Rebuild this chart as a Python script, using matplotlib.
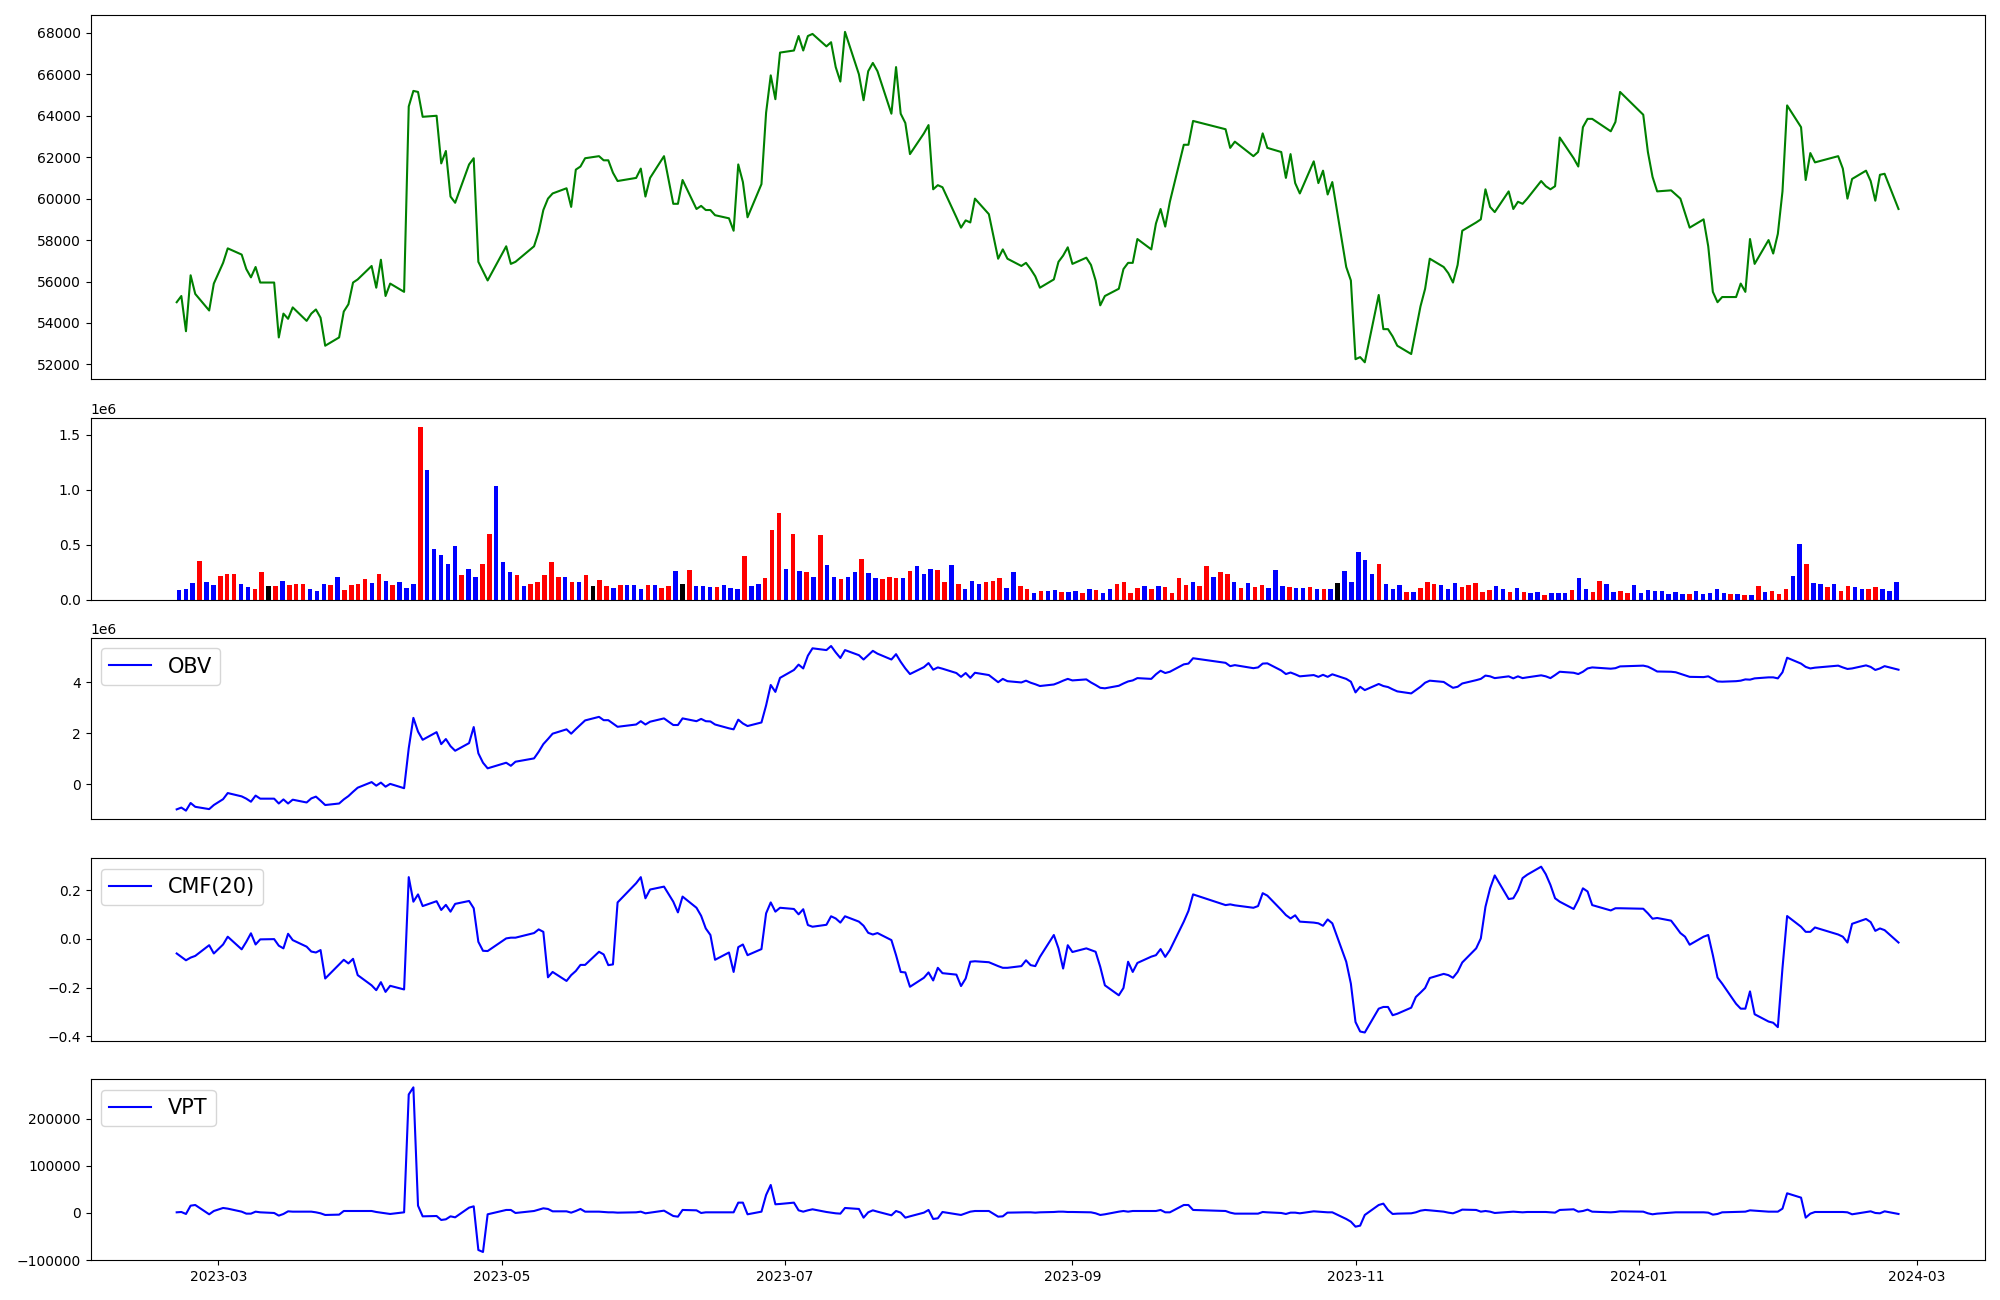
import numpy as np
import pandas as pd
import matplotlib
matplotlib.use("Agg")
import matplotlib.pyplot as plt

# KRX trading days, 2023-02-20 .. 2024-02-26
holidays = ['2023-03-01', '2023-05-01', '2023-05-05', '2023-05-29', '2023-06-06',
            '2023-08-15', '2023-09-28', '2023-09-29', '2023-10-02', '2023-10-03',
            '2023-10-09', '2023-12-25', '2023-12-29', '2024-01-01', '2024-02-09',
            '2024-02-12']
dates = pd.bdate_range('2023-02-20', '2024-02-26')
dates = dates[~dates.isin(pd.to_datetime(holidays))]

# close price
price = [
    55000, 55300, 53600, 56300, 55400, 54600, 55900,
    56900, 57600, 57300, 56600, 56200, 56700, 55950, 55950, 53300, 54450, 54200, 54750,
    54100, 54450, 54650, 54250, 52900, 53300, 54550, 54900, 55950, 56100,
    56750, 55700, 57050, 55300, 55900, 55500, 64450, 65200, 65150, 63950, 64000, 61700,
    62300, 60100, 59800, 61650, 61950, 56950, 56500, 56050,
    57700, 56850, 56950, 57700, 58400, 59450, 60000, 60250, 60500, 59600, 61400, 61550,
    61950, 62050, 61850, 61850, 61250, 60850, 61000, 61450,
    60100, 61000, 62050, 59750, 59750, 60900, 59500, 59650, 59450, 59450, 59200, 59050,
    58450, 61650, 60800, 59100, 60700, 64150, 65950, 64800, 67050,
    67150, 67850, 67150, 67850, 67950, 67350, 67550, 66350, 65650, 68050, 66000, 64750,
    66150, 66550, 66150, 64100, 66350, 64100, 63650, 62150, 63150,
    63550, 60450, 60650, 60550, 59100, 58600, 58950, 58850, 60000, 59250, 57100, 57550,
    57100, 56750, 56900, 56600, 56250, 55700, 56100, 56950, 57250, 57650,
    56850, 57150, 56800, 56050, 54850, 55300, 55650, 56600, 56900, 56900, 58050, 57550,
    58800, 59500, 58650, 59850, 62600, 62600, 63750,
    63350, 62450, 62750, 62050, 62250, 63150, 62450, 62250, 61000, 62150, 60750, 60250,
    61800, 60750, 61350, 60200, 60800, 56700, 56050,
    52250, 52350, 52100, 55350, 53700, 53700, 53350, 52900, 52500, 53650, 54800, 55650,
    57100, 56700, 56400, 55950, 56800, 58450, 58850, 59000, 60450, 59600,
    59350, 60350, 59500, 59850, 59750, 60000, 60850, 60600, 60450, 60600, 62950, 61950,
    61550, 63450, 63850, 63850, 63250, 63700, 65150,
    64050, 62250, 61050, 60350, 60400, 60200, 60000, 59300, 58600, 59000, 57700, 55500,
    55000, 55250, 55250, 55900, 55500, 58050, 56850, 58000, 57350, 58300,
    60350, 64500, 63450, 60900, 62200, 61750, 62050, 61450, 60000, 60950, 61350, 60850,
    59900, 61150, 61200, 59500,
]

# volume in thousands, bar colour code (r = up candle, b = down, k = flat)
volume_k = [
    85, 94, 148, 347, 157, 130, 211, 229, 229, 139, 112, 94, 248, 121, 121, 166, 130, 139,
    139, 94, 75, 139, 130, 202, 85, 130, 139, 184, 148, 229, 166, 130, 157, 103, 139, 1570,
    1180, 456, 402, 320, 492, 220, 275, 202, 320, 601, 1035, 338, 248, 220, 121, 139, 157,
    220, 338, 202, 202, 157, 157, 220, 121, 175, 121, 103, 130, 130, 130, 94, 130, 130, 103,
    121, 257, 139, 266, 121, 121, 112, 112, 130, 103, 94, 392, 121, 139, 193, 637, 791, 275,
    601, 257, 248, 202, 592, 311, 202, 184, 202, 248, 365, 239, 193, 184, 202, 193, 193,
    257, 302, 229, 275, 266, 157, 311, 139, 94, 166, 139, 157, 166, 193, 103, 248, 121, 94,
    57, 75, 75, 85, 66, 66, 75, 57, 94, 85, 57, 94, 139, 157, 57, 103, 121, 94, 121, 112,
    57, 193, 130, 157, 121, 302, 202, 248, 229, 157, 103, 148, 112, 130, 103, 266, 121, 112,
    103, 103, 112, 94, 94, 94, 148, 257, 157, 429, 356, 229, 320, 139, 94, 130, 66, 66, 103,
    157, 139, 130, 94, 148, 112, 130, 148, 66, 85, 121, 94, 66, 103, 66, 57, 66, 39, 57, 57,
    57, 85, 193, 94, 66, 166, 139, 66, 75, 57, 130, 57, 85, 75, 75, 48, 66, 48, 48, 75, 48,
    57, 94, 57, 48, 48, 39, 39, 121, 66, 75, 48, 94, 211, 510, 320, 148, 139, 112, 139, 75,
    121, 112, 94, 94, 112, 94, 75, 157,
]
vol_dir = ("bbbrbbrrrbbrrkrbrrrbbbrbrrrrbrbrbbbrbbbbbrbbrrbbbrbrrrrrbrbrkrrbrbbbrbrrbkrbbbrbbbrbb"
           "rrrbrbrbrbbrbbrbbrrrbrbbbrrbrbbbrrrbbrrbrbbrbbrbrbbrrrrbrbrrrrbrrbrrbrbrrbbbrbbrbrbk"
           "bbbbbrbbbrbrrrbbbrrrrrbbrbrbbrbbbrbbrrbbrrbbbbbbbbrbbbbbrbrbrbrrrbbrbbrbrrbbrrb")

# OBV in millions
obv_m = [
    -0.98, -0.91, -1.03, -0.73, -0.88, -0.97, -0.81, -0.58, -0.34, -0.47, -0.56, -0.68,
    -0.44, -0.56, -0.56, -0.75, -0.59, -0.75, -0.60, -0.71, -0.55, -0.48, -0.64, -0.81,
    -0.75, -0.59, -0.46, -0.29, -0.13, 0.09, -0.05, 0.07, -0.09, 0.02, -0.15, 1.42, 2.61,
    2.07, 1.75, 2.05, 1.58, 1.78, 1.50, 1.32, 1.62, 2.25, 1.22, 0.85, 0.63, 0.85, 0.73,
    0.89, 1.02, 1.28, 1.58, 1.78, 1.99, 2.16, 1.99, 2.17, 2.34, 2.51, 2.65, 2.52, 2.52,
    2.39, 2.26, 2.35, 2.48, 2.35, 2.46, 2.59, 2.33, 2.33, 2.59, 2.48, 2.57, 2.48, 2.47,
    2.35, 2.20, 2.16, 2.54, 2.39, 2.29, 2.43, 3.10, 3.90, 3.63, 4.18, 4.49, 4.70, 4.55,
    5.05, 5.34, 5.27, 5.43, 5.18, 4.96, 5.27, 5.07, 4.90, 5.07, 5.24, 5.13, 4.90, 5.11,
    4.81, 4.55, 4.33, 4.60, 4.76, 4.50, 4.59, 4.54, 4.37, 4.22, 4.37, 4.18, 4.38, 4.29,
    4.01, 4.14, 4.05, 4.00, 4.07, 3.99, 3.93, 3.86, 3.92, 3.99, 4.07, 4.14, 4.08, 4.12,
    4.00, 3.90, 3.79, 3.77, 3.87, 3.96, 4.04, 4.08, 4.17, 4.14, 4.32, 4.46, 4.37, 4.42,
    4.71, 4.74, 4.95, 4.77, 4.64, 4.68, 4.56, 4.59, 4.74, 4.75, 4.47, 4.33, 4.39, 4.32,
    4.24, 4.29, 4.22, 4.30, 4.22, 4.32, 4.14, 4.03, 3.61, 3.83, 3.70, 3.94, 3.86, 3.82,
    3.73, 3.65, 3.57, 3.70, 3.83, 3.99, 4.07, 4.02, 3.90, 3.79, 3.83, 3.96, 4.09, 4.14,
    4.27, 4.24, 4.17, 4.24, 4.16, 4.24, 4.17, 4.20, 4.28, 4.24, 4.17, 4.29, 4.42, 4.38,
    4.33, 4.42, 4.55, 4.59, 4.54, 4.56, 4.63, 4.66, 4.62, 4.53, 4.43, 4.42, 4.40, 4.34,
    4.28, 4.22, 4.21, 4.24, 4.14, 4.04, 4.03, 4.05, 4.07, 4.12, 4.11, 4.16, 4.20, 4.20,
    4.16, 4.40, 4.97, 4.74, 4.61, 4.55, 4.58, 4.66, 4.59, 4.53, 4.55, 4.67, 4.61, 4.49,
    4.55, 4.64, 4.50,
]

# Chaikin money flow, 20 days
cmf = [
    -0.060, -0.074, -0.088, -0.077, -0.070, -0.026, -0.060, -0.023, 0.009, -0.043, -0.012,
    0.023, -0.023, -0.002, -0.001, -0.028, -0.039, 0.021, -0.005, -0.032, -0.052, -0.056,
    -0.046, -0.163, -0.105, -0.086, -0.101, -0.082, -0.149, -0.191, -0.211, -0.178, -0.218,
    -0.193, -0.208, 0.254, 0.153, 0.183, 0.135, 0.155, 0.119, 0.140, 0.112, 0.144, 0.156,
    0.126, -0.012, -0.049, -0.050, 0.002, 0.005, 0.005, 0.024, 0.039, 0.029, -0.158,
    -0.136, -0.173, -0.149, -0.132, -0.107, -0.107, -0.053, -0.064, -0.108, -0.105, 0.150,
    0.229, 0.254, 0.167, 0.203, 0.215, 0.153, 0.109, 0.174, 0.128, 0.095, 0.043, 0.016,
    -0.086, -0.056, -0.136, -0.034, -0.023, -0.067, -0.042, 0.105, 0.150, 0.112, 0.128,
    0.123, 0.101, 0.122, 0.057, 0.050, 0.058, 0.093, 0.084, 0.067, 0.093, 0.071, 0.054,
    0.025, 0.018, 0.024, -0.005, -0.067, -0.136, -0.138, -0.197, -0.160, -0.138, -0.171,
    -0.119, -0.141, -0.147, -0.194, -0.163, -0.094, -0.092, -0.096, -0.112, -0.119, -0.119,
    -0.112, -0.088, -0.108, -0.112, -0.074, 0.016, -0.039, -0.122, -0.026, -0.054, -0.039,
    -0.046, -0.053, -0.115, -0.191, -0.232, -0.202, -0.094, -0.136, -0.099, -0.073, -0.067,
    -0.042, -0.074, -0.046, 0.071, 0.115, 0.183, 0.139, 0.142, 0.138, 0.128, 0.135, 0.188,
    0.178, 0.119, 0.098, 0.084, 0.097, 0.071, 0.067, 0.064, 0.054, 0.080, 0.064, -0.094,
    -0.184, -0.342, -0.381, -0.385, -0.287, -0.280, -0.280, -0.314, -0.308, -0.283, -0.239,
    -0.221, -0.202, -0.161, -0.144, -0.149, -0.160, -0.136, -0.097, -0.039, 0.002, 0.132,
    0.208, 0.261, 0.164, 0.167, 0.200, 0.250, 0.264, 0.297, 0.266, 0.222, 0.167, 0.153,
    0.123, 0.160, 0.208, 0.195, 0.139, 0.117, 0.126, 0.126, 0.124, 0.105, 0.083, 0.086,
    0.075, 0.050, 0.024, 0.009, -0.024, 0.009, 0.016, -0.067, -0.159, -0.184, -0.267,
    -0.287, -0.287, -0.216, -0.310, -0.340, -0.345, -0.363, -0.120, 0.094, 0.050, 0.029,
    0.029, 0.047, 0.018, 0.009, -0.015, 0.062, 0.082, 0.069, 0.033, 0.043, 0.036, -0.015,
]

# volume price trend
vpt = [
    1400, 2100, -2100, 15500, 16900, -2800, 4200, 10600, 9200, 2800, -1400, -1400, 2800,
    1400, 0, -5600, -2100, 3500, 2800, 2800, 2800, 1400, -700, -4200, -3500, 4200, 4200,
    4200, 4200, 4200, 2100, 700, -700, -2100, 1400, 251000, 266000, 15500, -7100, -6400,
    -14800, -13400, -7100, -9200, 11300, 14100, -78400, -82600, -2800, 6400, 6400, 0, 4200,
    7100, 9900, 8500, 3500, 3500, 700, 4200, 8500, 2800, 2800, 2100, 1400, 1400, 700, 1400,
    2800, -700, 700, 4900, -6400, -7800, 6400, 5600, 0, 1400, 1400, 1400, 1400, 1400, 21900,
    21900, -2800, 2800, 38100, 59300, 18400, 19100, 21900, 5600, 2800, 5600, 7800, 2100,
    700, -700, -1400, 10600, 8500, -9900, 1400, 5600, 2800, -4900, 4200, 700, -9900, -7100,
    700, 6400, -12700, -11300, 2100, -2800, -4200, -700, 2800, 4200, 4200, -7800, -7100,
    700, 1400, 1400, 1400, 700, 1400, 2100, 2800, 2800, 2100, 2100, 1400, 1400, -700, -4200,
    -2800, 2800, 4200, 2800, 4200, 4200, 4200, 4200, 6400, 1400, 1400, 16900, 16900, 6400,
    4200, 700, -1400, -1400, -1400, 2100, 1400, 0, -2100, 700, 700, -700, 3500, 2800, 2100,
    1400, 1400, -12700, -18400, -29000, -26800, -4200, 16900, 19800, 6400, -2100, -1400,
    -700, 1400, 4900, 6400, 5600, 2800, 700, -700, 2800, 7100, 6400, 2800, 4200, 2800, 0,
    2100, 2800, 2100, 1400, 2100, 2100, 2100, 1400, 700, 6400, 7800, 2800, 4200, 7100, 2800,
    1400, 2100, 3500, 2800, -700, -2800, -1400, 700, 1400, 1400, 1400, 1400, 1400, 700,
    -3500, -2100, 1400, 2100, 2100, 2800, 5600, 4900, 2800, 2800, 2800, 9200, 41700, 32500,
    -9900, -1400, 2100, 2100, 2100, 1400, -2800, 2100, 3500, 0, -700, 3500, -2100,
]

volume = np.array(volume_k) * 1000
obv = np.array(obv_m) * 1e6
bar_colors = [{'r': 'red', 'b': 'blue', 'k': 'black'}[c] for c in vol_dir]

fig = plt.figure(figsize=(20, 13), dpi=100)
left, width = 0.0453, 0.947

# price
ax1 = fig.add_axes([left, 0.7086, width, 0.2796])
ax1.plot(dates, price, color='green')
ax1.set_xticks([])

# volume bars
ax2 = fig.add_axes([left, 0.5388, width, 0.1393])
ax2.bar(range(len(volume)), volume, color=bar_colors, width=0.65)
ax2.set_xticks([])

# OBV
ax3 = fig.add_axes([left, 0.3701, width, 0.1393])
ax3.plot(dates, obv, color='blue', label='OBV')
ax3.legend(loc='upper left', fontsize=15)
ax3.set_xticks([])

# CMF
ax4 = fig.add_axes([left, 0.1994, width, 0.1403])
ax4.plot(dates, cmf, color='blue', label='CMF(20)')
ax4.legend(loc='upper left', fontsize=15)
ax4.set_xticks([])

# VPT
ax5 = fig.add_axes([left, 0.0306, width, 0.1393])
ax5.plot(dates, vpt, color='blue', label='VPT')
ax5.legend(loc='upper left', fontsize=15)

fig.savefig('out.png', dpi=100)
